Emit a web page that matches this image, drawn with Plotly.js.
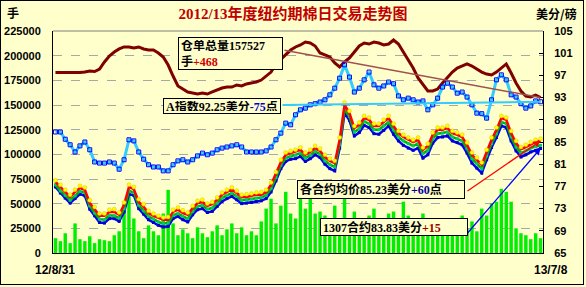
<!DOCTYPE html>
<html><head><meta charset="utf-8">
<script src="https://cdn.plot.ly/plotly-3.0.1.min.js"></script>
<style>
body{margin:0;background:#FFFFCC;}
#chart{width:586px;height:287px;}
#frame{position:absolute;left:0;top:0;width:582px;height:283px;border:1px solid #000;pointer-events:none;}
</style></head>
<body><div id="chart"></div><div id="frame"></div>
<script>
const chartTitle = '2012/13年度纽约期棉日交易走势图';
const xTickLabels = ['12/8/31', '13/7/8'];
const leftUnit = '手';
const rightUnit = '美分/磅';

// 仓单总量 (手), left axis
const warehouse = [182900,182900,182600,182900,182400,182900,183400,184500,183900,186500,
193600,199700,203700,206800,208800,208800,207800,208800,206800,205700,
205700,202700,198600,190500,179400,169300,166200,163200,162200,161100,
162200,161100,163200,165200,167200,168200,168200,170300,169300,171300,
172300,173300,175300,179400,183400,191600,196600,201700,205700,208800,
210800,213800,212800,209800,202700,200700,198600,192600,188500,193600,
197600,203700,209800,212800,211800,213800,212800,210800,211800,215900,
211800,203700,195600,187500,177400,171300,164200,164200,166200,172300,
178400,183400,187500,189500,191600,189500,186500,183400,181400,180400,
183400,187500,191600,182400,172300,164200,159100,158100,160100,157527];

// 成交量 (手), left axis
const volume = [15000,12000,20000,10000,30000,14000,12000,17000,10000,14000,
13000,12000,18000,22000,50000,58000,35000,22000,15000,28000,
22000,18000,40000,64000,30000,18000,24000,20000,15000,26000,
20000,16000,22000,28000,18000,24000,30000,20000,26000,18000,
22000,18000,32000,45000,55000,30000,48000,62000,40000,35000,
55000,45000,58000,40000,42000,38000,30000,48000,35000,55000,
35000,42000,30000,25000,38000,45000,28000,32000,40000,42000,
35000,52000,38000,30000,28000,40000,25000,32000,30000,22000,
20000,26000,30000,38000,25000,32000,22000,45000,38000,50000,
52000,65000,62000,52000,25000,20000,18000,14000,20000,15000];

// A指数 (美分/磅), right axis
const aIndex = [86.8,86.8,85.5,84.5,83.2,84.3,85.0,83.6,81.4,81.2,
81.2,81.4,81.2,80.1,81.8,85.4,85.2,83.2,81.9,80.9,
80.5,80.5,79.8,79.8,80.9,81.6,81.8,81.4,81.8,82.5,
83.0,82.7,83.0,83.6,83.9,84.1,84.3,84.5,84.1,83.2,
83.2,83.2,83.2,83.4,84.1,85.4,86.6,88.4,88.1,89.9,
90.8,91.1,91.7,91.9,92.2,92.6,93.5,94.7,96.5,98.9,
96.7,94.0,94.7,96.2,97.6,95.3,94.7,95.1,95.8,95.5,
93.3,92.6,92.9,92.6,92.2,92.4,90.8,91.7,92.9,94.9,
95.6,94.9,93.8,94.0,93.1,91.7,90.2,90.1,89.3,92.6,
96.2,97.1,96.2,93.5,93.1,91.9,91.1,91.5,92.4,92.25];

// 各合约 (美分/磅), right axis
const contractBlue = [76.9,75.8,74.9,74.0,74.8,75.6,75.3,72.9,71.7,70.5,
70.4,71.2,71.2,70.7,72.4,75.6,75.4,73.0,72.0,71.0,
70.5,70.0,69.7,69.8,71.2,71.6,71.0,70.6,71.9,72.8,
73.0,72.3,72.5,73.4,74.3,74.8,75.2,74.6,73.9,74.0,
74.1,74.3,74.4,74.8,76.0,78.0,80.2,81.5,81.9,82.0,
82.4,81.5,82.0,82.7,82.2,81.0,80.2,79.8,83.9,90.2,
88.9,86.1,86.7,88.0,87.6,86.5,86.4,87.1,87.9,86.4,
85.2,84.4,83.9,83.5,83.9,82.1,82.7,84.8,85.8,85.9,
86.1,85.2,84.9,84.5,83.0,81.2,80.3,79.4,81.8,84.0,
85.8,87.9,87.6,85.2,83.4,82.3,82.7,83.2,83.5,83.83];
const contractGreen = [77.3,76.2,75.4,74.5,75.3,76.1,75.9,73.5,72.2,71.1,
71.0,71.8,71.7,71.3,73.0,76.2,75.9,73.6,72.6,71.6,
71.1,70.6,70.3,70.4,71.8,72.1,71.6,71.2,72.5,73.4,
73.6,72.9,73.1,74.0,74.9,75.4,75.8,75.2,74.5,74.6,
74.7,74.9,75.0,75.4,76.6,78.6,80.8,82.1,82.4,82.6,
83.0,82.1,82.6,83.3,82.8,81.6,80.9,80.5,84.6,90.9,
89.6,86.8,87.4,88.7,88.3,87.2,87.2,87.9,88.6,87.2,
85.9,85.2,84.7,84.3,84.7,82.9,83.5,85.6,86.5,86.6,
86.8,85.9,85.6,85.2,83.8,82.0,81.1,80.2,82.5,84.7,
86.5,88.6,88.3,85.9,84.1,83.0,83.4,83.9,84.2,84.4];
const contractRed = [77.8,76.9,76.0,75.1,76.0,76.7,76.4,74.0,72.9,71.7,
71.7,72.4,72.4,71.9,73.7,76.9,76.5,74.2,73.3,72.2,
71.7,71.3,71.0,71.0,72.4,72.8,72.2,71.9,73.1,74.0,
74.2,73.5,73.8,74.6,75.5,76.0,76.4,75.8,75.1,75.1,
75.3,75.5,75.5,76.0,77.3,79.2,81.4,82.7,83.0,83.2,
83.6,82.7,83.2,83.9,83.4,82.3,81.6,81.2,85.4,91.7,
90.2,87.5,88.1,89.3,89.0,87.9,87.9,88.6,89.3,87.9,
86.6,85.9,85.4,85.0,85.4,83.6,84.3,86.3,87.2,87.2,
87.5,86.6,86.3,85.9,84.5,82.7,81.8,80.9,83.2,85.4,
87.2,89.3,89.0,86.6,84.8,83.7,84.1,84.6,85.0,85.23];
const contractYellow = [78.1,77.3,76.4,75.5,76.4,77.1,76.8,74.5,73.3,72.1,
72.1,72.8,72.9,72.3,74.1,77.3,76.9,74.7,73.8,72.6,
72.1,71.7,71.4,71.5,72.8,73.2,72.7,72.3,73.5,74.4,
74.6,73.9,74.2,75.0,75.9,76.4,76.8,76.2,75.5,75.6,
75.7,75.9,76.0,76.4,77.7,79.6,81.8,83.1,83.4,83.6,
84.0,83.1,83.6,84.3,83.8,82.7,82.0,81.6,85.8,92.1,
90.6,87.9,88.5,89.7,89.4,88.3,88.3,89.0,89.7,88.3,
87.0,86.3,85.8,85.4,85.8,84.0,84.7,86.7,87.6,87.6,
87.9,87.0,86.7,86.3,84.9,83.1,82.2,81.3,83.6,85.8,
87.6,89.7,89.4,87.0,85.2,84.1,84.5,85.0,85.4,85.6];

const whTotal = 157527, whChange = '+468';
const aLast = 92.25, aChange = '-75';
const avgLast = 85.23, avgChange = '+60';
const c1307Last = 83.83, c1307Change = '+15';

const N = warehouse.length;
const xs = Array.from({length: N}, (_, i) => i);
const last = N - 1;

// plot-area geometry helpers (layout only)
const L = 53, R = 543, T = 31, B = 253;
const pxX = p => (p - L) / (R - L);
const pxY = p => (B - p) / (B - T);

const boxFont = {family: 'Liberation Serif, "Noto Sans CJK SC", serif', size: 12, color: '#000', weight: 700};
const tickFont = {family: 'Liberation Sans, Arial, sans-serif', size: 11, color: '#000', weight: 700};
const unitFont = {family: '"Noto Sans CJK SC"', size: 12, color: '#000', weight: 700};

const traces = [
  {type: 'bar', x: xs, y: volume, marker: {color: '#00EE00'}, hoverinfo: 'skip'},
  {type: 'scatter', mode: 'lines', x: xs, y: warehouse, line: {color: '#800000', width: 3}},
  {type: 'scatter', mode: 'lines+markers', x: xs, y: aIndex, yaxis: 'y2',
   line: {color: '#33CCFF', width: 3}, marker: {symbol: 'square-open', size: 4, color: '#0000FF', line: {width: 1}}},
  {type: 'scatter', mode: 'lines+markers', x: xs, y: contractBlue, yaxis: 'y2', line: {color: '#0000FF', width: 2.5},
   marker: {symbol: 'square', size: 3, color: '#0000CC'}},
  {type: 'scatter', mode: 'lines+markers', x: xs, y: contractGreen, yaxis: 'y2', line: {color: '#00B000', width: 2.5},
   marker: {symbol: 'square', size: 3, color: '#00CC66'}},
  {type: 'scatter', mode: 'lines', x: xs, y: contractRed, yaxis: 'y2', line: {color: '#FF0000', width: 2.5}},
  {type: 'scatter', mode: 'markers', x: xs, y: contractYellow, yaxis: 'y2',
   marker: {symbol: 'circle', size: 4, color: '#FFFF00', line: {color: '#E0C000', width: 0.5}}}
];

const box = (text, left, top, w, h) => ({
  xref: 'paper', yref: 'paper', x: pxX(left), y: pxY(top), xanchor: 'left', yanchor: 'top',
  text: text, showarrow: false, align: 'left', valign: 'middle', width: w, height: h,
  bgcolor: '#FFFFCC', bordercolor: '#000', borderwidth: 1, borderpad: 2, font: boxFont
});
const arrow = (yref, yv, tailX, tailY, color, width, head) => ({
  xref: 'x', yref: yref, x: last, y: yv, text: '', showarrow: true,
  axref: 'pixel', ayref: 'pixel',
  ax: tailX - (L + (last + 0.5) * (R - L) / N), ay: tailY - (B - (yref === 'y' ? yv / 225000 : (yv - 65) / 40) * (B - T)),
  arrowcolor: color, arrowwidth: width, arrowhead: head, arrowsize: 1, standoff: 0, startstandoff: 0
});
const label = (text, cx, cy, font) => ({xref: 'paper', yref: 'paper', x: pxX(cx), y: pxY(cy),
  xanchor: 'center', yanchor: 'middle', text: text, showarrow: false, font: font});

const annotations = [
  arrow('y', warehouse[last], 283, 50, '#A05050', 1.5, 0),
  arrow('y2', aIndex[last], 281, 105, '#33CCFF', 2, 0),
  arrow('y2', contractRed[last], 466, 192, '#FF0000', 1.3, 2),
  arrow('y2', contractBlue[last], 465, 236, '#0000FF', 1.3, 2),
  box('仓单总量' + whTotal + '<br>手<span style="color:#D00000">' + whChange + '</span>', 178, 37, 99, 27),
  box('A指数' + aLast + '美分<span style="color:#0000CC">' + aChange + '</span>点', 163, 98, 112, 10),
  box('各合约均价' + avgLast + '美分<span style="color:#000099">' + avgChange + '</span>点', 297, 180, 162, 13),
  box('1307合约' + c1307Last + '美分<span style="color:#990000">' + c1307Change + '</span>', 320, 218, 142, 12),
  label(leftUnit, 12.5, 13, unitFont),
  label(rightUnit, 556, 14, unitFont),
  label(xTickLabels[0], 55, 270, Object.assign({}, tickFont, {size: 12})),
  label(xTickLabels[1], 551, 270, Object.assign({}, tickFont, {size: 12}))
];

const layout = {
  width: 586, height: 287,
  margin: {l: L, r: 586 - R, t: T, b: 287 - B, pad: 0},
  paper_bgcolor: '#FFFFCC', plot_bgcolor: '#FFFFCC',
  showlegend: false, bargap: 0.3,
  title: {text: chartTitle, x: 293 / 586, xanchor: 'center', y: 1 - 14 / 287, yanchor: 'middle',
          font: {family: 'Liberation Serif, "Noto Sans CJK SC", serif', size: 15, color: '#C00000', weight: 700}},
  xaxis: {range: [-0.5, N - 0.5], showticklabels: false, ticks: '',
          showgrid: false, zeroline: false, showline: true, linecolor: '#000', linewidth: 1},
  yaxis: {range: [0, 225000], dtick: 25000, tick0: 0, tickformat: 'd', showgrid: true, gridcolor: '#A8A8A8', griddash: 'dash',
          zeroline: false, showline: true, linecolor: '#000', ticks: '', tickfont: tickFont, ticklabelstandoff: 9},
  yaxis2: {range: [65, 105], dtick: 4, tick0: 65, overlaying: 'y', side: 'right', showgrid: false, zeroline: false,
           showline: true, linecolor: '#000', ticks: 'inside', ticklen: 4, tickcolor: '#000',
           tickfont: tickFont, ticklabelstandoff: 8},
  shapes: [{type: 'line', xref: 'paper', yref: 'paper', x0: 0, x1: 1, y0: 1, y1: 1, line: {color: '#808080', width: 1}}],
  annotations: annotations
};

Plotly.newPlot('chart', traces, layout, {displayModeBar: false, staticPlot: true});
</script>
</body></html>
